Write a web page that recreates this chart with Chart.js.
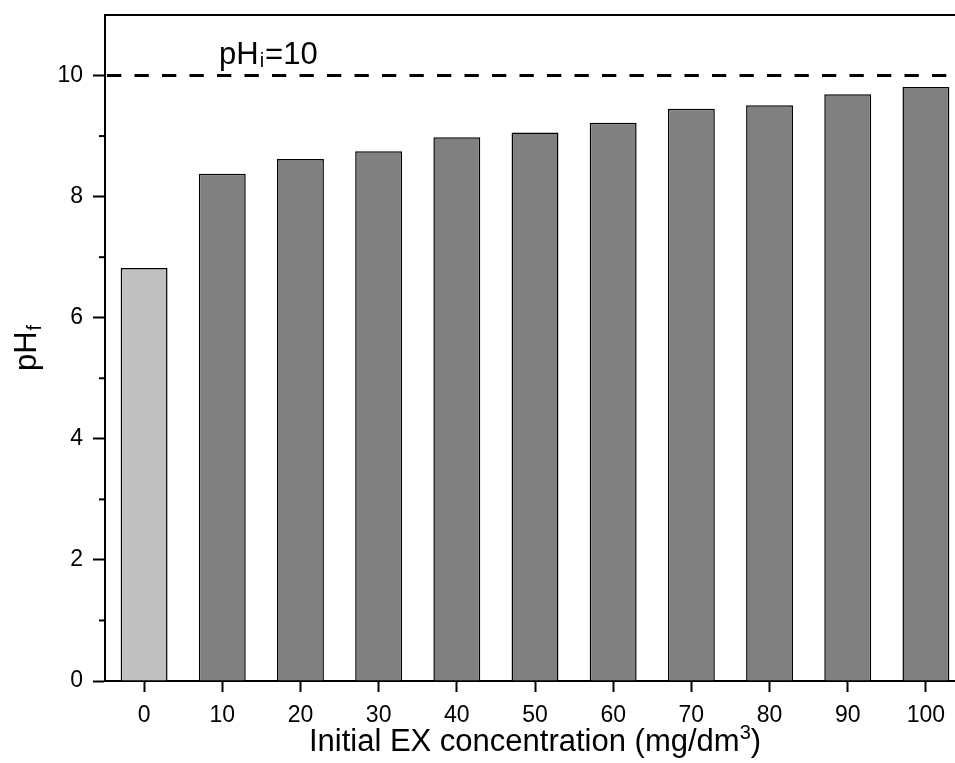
<!DOCTYPE html>
<html>
<head>
<meta charset="utf-8">
<script src="https://cdn.jsdelivr.net/npm/chart.js@4.4.1/dist/chart.umd.min.js"></script>
<style>
  html, body { margin: 0; padding: 0; overflow: hidden; background: #ffffff; }
  #wrap { position: relative; width: 980px; height: 763px; }
</style>
</head>
<body>
<div id="wrap"><canvas id="chart"></canvas></div>
<script>
// Initial EX concentration (mg/dm3) for each run
const concentrations = ['0', '10', '20', '30', '40', '50', '60', '70', '80', '90', '100'];
// Final pH measured after each run
const finalPH = [6.82, 8.38, 8.62, 8.75, 8.98, 9.06, 9.22, 9.45, 9.51, 9.69, 9.81];
// Starting pH of every run (dashed reference line)
const initialPH = 10;
// y axis range, labelled steps and unlabelled minor ticks
const yMin = 0;
const yMax = 11;
const yMajorStep = 2;
const yMinorTicks = [1, 3, 5, 7, 9];

const FONT = '"Liberation Sans", Arial, Helvetica, sans-serif';
Chart.defaults.font.family = FONT;
Chart.defaults.color = '#000000';

// Frame line, minor ticks, reference line and the texts with sub/superscripts
const decorations = {
  id: 'decorations',
  afterDraw(chart) {
    const { ctx, chartArea: a, scales: { x, y } } = chart;
    ctx.save();
    ctx.strokeStyle = '#000000';
    ctx.fillStyle = '#000000';

    // top frame line
    ctx.lineWidth = 2;
    ctx.beginPath();
    ctx.moveTo(a.left - 1, a.top);
    ctx.lineTo(a.right + 1, a.top);
    ctx.stroke();

    // minor ticks on the y axis
    yMinorTicks.forEach(v => {
      const py = y.getPixelForValue(v);
      ctx.beginPath();
      ctx.moveTo(a.left - 6, py);
      ctx.lineTo(a.left, py);
      ctx.stroke();
    });

    // dashed line at the initial pH
    const pyRef = y.getPixelForValue(initialPH);
    ctx.lineWidth = 3;
    ctx.setLineDash([14.3, 13.2]);
    ctx.beginPath();
    ctx.moveTo(a.left + 2, pyRef);
    ctx.lineTo(a.right, pyRef);
    ctx.stroke();
    ctx.setLineDash([]);

    ctx.textAlign = 'left';
    ctx.textBaseline = 'alphabetic';

    // "pHi=10" label above the reference line
    let tx = a.left + 114;
    const ty = pyRef - 12;
    ctx.font = '31px ' + FONT;
    ctx.fillText('pH', tx, ty);
    tx += ctx.measureText('pH').width + 1;
    ctx.font = '20px ' + FONT;
    ctx.fillText('i', tx, ty + 3);
    tx += ctx.measureText('i').width + 1;
    ctx.font = '31px ' + FONT;
    ctx.fillText('=' + initialPH, tx, ty);

    // x axis title with superscript
    const xa = 'Initial EX concentration (mg/dm';
    const xb = '3';
    const xc = ')';
    ctx.font = '31px ' + FONT;
    const wa = ctx.measureText(xa).width;
    const wc = ctx.measureText(xc).width;
    ctx.font = '20px ' + FONT;
    const wb = ctx.measureText(xb).width;
    let sx = (a.left + a.right) / 2 - (wa + wb + wc) / 2;
    const by = 751;
    ctx.font = '31px ' + FONT;
    ctx.fillText(xa, sx, by);
    sx += wa;
    ctx.font = '20px ' + FONT;
    ctx.fillText(xb, sx, by - 12);
    sx += wb;
    ctx.font = '31px ' + FONT;
    ctx.fillText(xc, sx, by);

    // y axis title with subscript
    ctx.translate(36, (a.top + a.bottom) / 2);
    ctx.rotate(-Math.PI / 2);
    ctx.font = '31px ' + FONT;
    const w1 = ctx.measureText('pH').width;
    ctx.font = '20px ' + FONT;
    const w2 = ctx.measureText('f').width;
    const start = -(w1 + w2 + 1) / 2;
    ctx.font = '31px ' + FONT;
    ctx.fillText('pH', start, 0);
    ctx.font = '20px ' + FONT;
    ctx.fillText('f', start + w1 + 1, 5);

    ctx.restore();
  }
};

new Chart(document.getElementById('chart'), {
  type: 'bar',
  data: {
    labels: concentrations,
    datasets: [{
      data: finalPH,
      backgroundColor: concentrations.map((c, i) => i === 0 ? '#c0c0c0' : '#808080'),
      borderColor: '#000000',
      borderWidth: 1.5,
      barPercentage: 0.6,
      categoryPercentage: 1.0
    }]
  },
  options: {
    responsive: true,
    maintainAspectRatio: false,
    devicePixelRatio: 1,
    animation: false,
    layout: { padding: { top: 15, right: 15, bottom: 0, left: 55 } },
    plugins: {
      legend: { display: false },
      tooltip: { enabled: false }
    },
    scales: {
      x: {
        offset: true,
        grid: {
          display: true,
          offset: false,
          drawOnChartArea: false,
          drawTicks: true,
          tickLength: 11,
          tickWidth: 2,
          tickColor: '#000000'
        },
        border: { display: true, color: '#000000', width: 2 },
        ticks: {
          font: { size: 23 },
          color: '#000000',
          padding: 10,
          maxRotation: 0,
          autoSkip: false
        },
        afterFit(scale) {
          scale.height = 82;
          scale.paddingLeft = 0;
          scale.paddingRight = 0;
        }
      },
      y: {
        min: yMin,
        max: yMax,
        grid: {
          display: true,
          drawOnChartArea: false,
          drawTicks: true,
          tickLength: 12,
          tickWidth: 2,
          tickColor: '#000000'
        },
        border: { display: true, color: '#000000', width: 2 },
        ticks: {
          stepSize: yMajorStep,
          includeBounds: false,
          font: { size: 23 },
          color: '#000000',
          padding: 10
        },
        afterFit(scale) {
          scale.width = 50;
          scale.paddingTop = 0;
          scale.paddingBottom = 0;
        }
      }
    }
  },
  plugins: [decorations]
});
</script>
</body>
</html>
